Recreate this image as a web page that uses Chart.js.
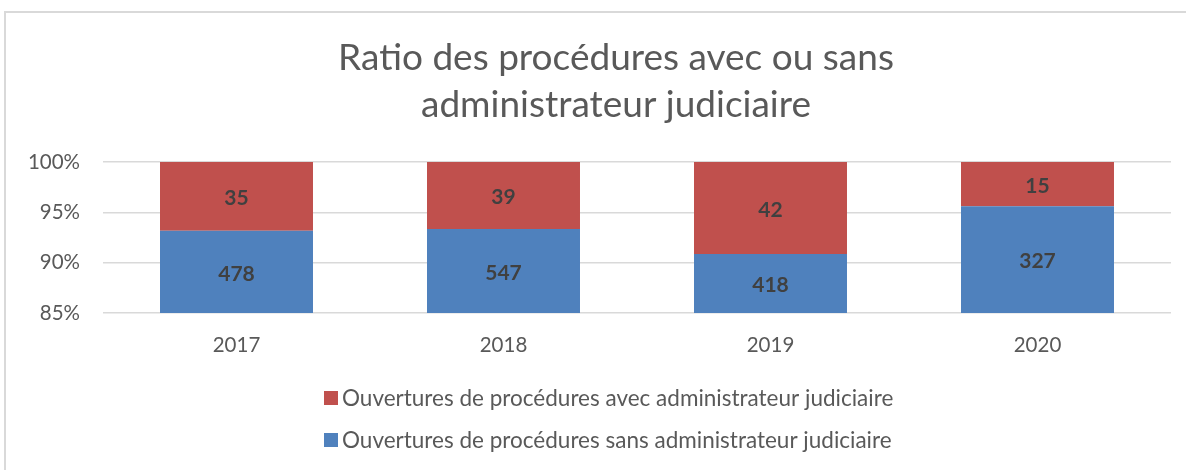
<!DOCTYPE html>
<html>
<head>
<meta charset="utf-8">
<script src="https://cdn.jsdelivr.net/npm/chart.js@4/dist/chart.umd.min.js"></script>
<style>
  html, body { margin: 0; padding: 0; background: #ffffff; }
  #wrap { position: relative; width: 1186px; height: 470px; }
</style>
</head>
<body>
<div id="wrap"><canvas id="c" width="1186" height="470"></canvas></div>
<script>
// ---- data ----
const categories = ['2017', '2018', '2019', '2020'];
const sansAdmin = [478, 547, 418, 327];   // Ouvertures de procédures sans administrateur judiciaire
const avecAdmin = [35, 39, 42, 15];       // Ouvertures de procédures avec administrateur judiciaire
const seriesLabels = [
  'Ouvertures de procédures sans administrateur judiciaire',
  'Ouvertures de procédures avec administrateur judiciaire'
];
const titleLines = ['Ratio des procédures avec ou sans', 'administrateur judiciaire'];
const yTicks = [85, 90, 95, 100];

// percentages for the 100% stacked chart
const totals = categories.map((_, i) => sansAdmin[i] + avecAdmin[i]);
const sansPct = sansAdmin.map((v, i) => v / totals[i] * 100);
const avecPct = avecAdmin.map((v, i) => v / totals[i] * 100);

const FONT = 'Lato, "Open Sans", sans-serif';
const TEXT = '#595959';

const framePlugin = {
  id: 'frame',
  beforeDraw(chart) {
    const ctx = chart.ctx;
    ctx.save();
    ctx.fillStyle = '#ffffff';
    ctx.fillRect(0, 0, chart.width, chart.height);
    ctx.strokeStyle = '#d9d9d9';
    ctx.lineWidth = 2;
    ctx.strokeRect(5, 12, chart.width + 10, chart.height + 10);
    ctx.restore();
  }
};

const titlePlugin = {
  id: 'customTitle',
  afterDraw(chart) {
    const ctx = chart.ctx;
    ctx.save();
    ctx.font = '37px ' + FONT;
    ctx.fillStyle = TEXT;
    ctx.textAlign = 'center';
    ctx.textBaseline = 'alphabetic';
    const lines = chart.options.plugins.customTitle.lines;
    const cx = 616;
    lines.forEach((t, k) => ctx.fillText(t, cx, 70 + k * 47));
    ctx.restore();
  }
};

const labelPlugin = {
  id: 'segLabels',
  afterDatasetsDraw(chart) {
    const ctx = chart.ctx;
    const area = chart.chartArea;
    ctx.save();
    ctx.font = 'bold 21px ' + FONT;
    ctx.fillStyle = '#404040';
    ctx.textAlign = 'center';
    ctx.textBaseline = 'middle';
    chart.data.datasets.forEach((ds, di) => {
      const meta = chart.getDatasetMeta(di);
      meta.data.forEach((bar, i) => {
        const p = bar.getProps(['x', 'y', 'base'], true);
        const top = Math.max(Math.min(p.y, p.base), area.top);
        const bottom = Math.min(Math.max(p.y, p.base), area.bottom);
        ctx.fillText(String(ds.counts[i]), p.x, (top + bottom) / 2 + 2);
      });
    });
    ctx.restore();
  }
};

const legendPlugin = {
  id: 'customLegend',
  afterDraw(chart) {
    const ctx = chart.ctx;
    ctx.save();
    ctx.font = '22.5px ' + FONT;
    ctx.textBaseline = 'middle';
    const items = chart.data.datasets.map(ds => ({ label: ds.label, color: ds.backgroundColor })).reverse();
    const box = 14, gap = 4;
    const maxW = Math.max(...items.map(it => ctx.measureText(it.label).width));
    const total = box + gap + maxW;
    const x0 = Math.round(609 - total / 2);
    const rows = [398, 440];
    items.forEach((it, k) => {
      const y = rows[k];
      ctx.fillStyle = it.color;
      ctx.fillRect(x0, y - box / 2, box, box);
      ctx.fillStyle = TEXT;
      ctx.textAlign = 'left';
      ctx.fillText(it.label, x0 + box + gap, y + 1);
    });
    ctx.restore();
  }
};

new Chart(document.getElementById('c'), {
  type: 'bar',
  data: {
    labels: categories,
    datasets: [
      { label: seriesLabels[0], data: sansPct, counts: sansAdmin, backgroundColor: '#4F81BD', stack: 's' },
      { label: seriesLabels[1], data: avecPct, counts: avecAdmin, backgroundColor: '#C0504D', stack: 's' }
    ]
  },
  options: {
    responsive: false,
    animation: false,
    devicePixelRatio: 1,
    categoryPercentage: 1,
    barPercentage: 0.573,
    layout: { padding: { left: 0, right: 15, top: 162, bottom: 97 } },
    plugins: {
      legend: { display: false },
      tooltip: { enabled: false },
      title: { display: false },
      customTitle: { lines: titleLines }
    },
    scales: {
      x: {
        stacked: true,
        grid: { display: false, drawTicks: false },
        border: { display: false },
        ticks: { color: TEXT, font: { family: FONT, size: 20.5 }, padding: 20 },
        afterFit(scale) { scale.height = 60; }
      },
      y: {
        stacked: true,
        min: 85,
        max: 100,
        afterBuildTicks(scale) { scale.ticks = yTicks.map(v => ({ value: v })); },
        grid: { color: '#d9d9d9', lineWidth: 1.5, drawTicks: false },
        border: { display: false },
        ticks: { color: TEXT, font: { family: FONT, size: 20.5 }, padding: 23, callback: v => v + '%' },
        afterFit(scale) { scale.width = 103; }
      }
    }
  },
  plugins: [framePlugin, titlePlugin, labelPlugin, legendPlugin]
});
</script>
</body>
</html>
